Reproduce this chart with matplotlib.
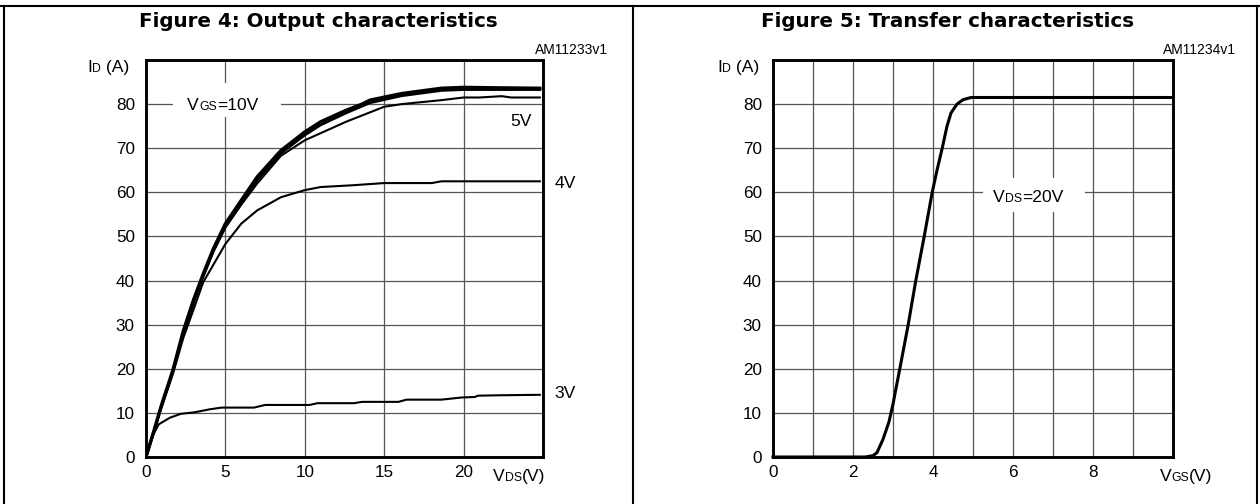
import matplotlib
matplotlib.use("Agg")
import matplotlib.pyplot as plt
from matplotlib.lines import Line2D
from matplotlib.patches import Rectangle

plt.rcParams["font.family"] = ["Liberation Sans", "DejaVu Sans"]

W, H = 1260, 504

# Figure 4: output characteristics, ID (A) vs VDS (V)
vds_10v = [0, 0.5, 0.96, 1.7, 2.35, 2.98, 3.6, 4.24, 5.0, 6.0, 7.0, 8.5, 10.0, 11.0,
           12.6, 13.6, 14.1, 16.1, 18.6, 20.0, 22.0, 24.8]
id_10v = [0, 6.0, 11.6, 19.8, 28.6, 35.5, 41.5, 47.2, 52.9, 58.2, 63.5, 69.5, 73.7, 76.0,
          78.6, 80.0, 80.9, 82.4, 83.6, 83.8, 83.7, 83.6]
vds_6v = [0, 0.5, 0.96, 1.7, 2.35, 2.98, 3.6, 4.24, 5.0, 6.0, 7.0, 8.5, 10.0, 11.0,
          12.6, 14.1, 16.1, 18.6, 20.0, 22.0, 24.8]
id_6v = [0, 5.8, 11.4, 19.5, 28.2, 35.0, 41.0, 46.7, 52.3, 57.6, 62.8, 68.9, 73.0, 75.3,
         78.0, 80.3, 81.9, 83.1, 83.3, 83.3, 83.3]
vds_5v = [0, 0.5, 0.96, 1.7, 2.35, 2.98, 3.6, 4.24, 5.0, 6.0, 7.0, 8.5, 10.0, 12.6, 15.0,
          16.1, 18.6, 20.0, 21.0, 22.4, 23.0, 24.8]
id_5v = [0, 5.8, 11.3, 19.3, 27.8, 34.8, 40.8, 46.5, 52.0, 57.2, 62.0, 68.3, 71.8, 76.0,
         79.4, 80.0, 80.9, 81.5, 81.5, 81.8, 81.5, 81.5]
vds_4v = [0, 0.5, 0.96, 1.7, 2.35, 3.0, 3.6, 5.0, 6.0, 7.0, 8.5, 10.0, 11.0, 13.0, 15.0,
          18.0, 18.6, 24.8]
id_4v = [0, 5.6, 11.0, 18.9, 27.0, 33.5, 39.6, 48.3, 52.9, 55.9, 58.9, 60.5, 61.2, 61.6,
         62.1, 62.1, 62.5, 62.5]
vds_3v = [0, 0.45, 0.8, 1.5, 2.2, 3.0, 4.0, 4.75, 6.8, 7.5, 10.3, 10.8, 13.1, 13.6, 15.9,
          16.4, 18.6, 19.9, 20.7, 20.9, 22.4, 24.8]
id_3v = [0, 5.0, 7.4, 8.9, 9.8, 10.1, 10.8, 11.2, 11.2, 11.8, 11.8, 12.2, 12.2, 12.5, 12.5,
         13.0, 13.0, 13.5, 13.6, 13.9, 14.0, 14.1]

# Figure 5: transfer characteristics, ID (A) vs VGS (V) at VDS = 20 V
vgs = [0, 2.3, 2.5, 2.6, 2.75, 2.9, 3.0, 3.17, 3.38, 3.57, 3.78, 3.98, 4.1, 4.23, 4.35,
       4.45, 4.6, 4.75, 4.95, 9.95]
id_tr = [0, 0, 0.3, 1.0, 4.0, 8.0, 12.0, 20.0, 30.0, 40.0, 50.0, 60.0, 65.0, 70.0, 75.0,
         78.0, 80.0, 81.0, 81.5, 81.5]

y_ticks = [0, 10, 20, 30, 40, 50, 60, 70, 80]
out_xticks = [0, 5, 10, 15, 20]
tr_xticks = [0, 2, 4, 6, 8]

FS = 12.3     # tick labels
LFS = 12.6    # curve / axis names
SMALL = 0.7


def fx(px):
    return px / W


def fy(py):
    return 1 - py / H


def rich(ax, x, y, parts, transform):
    """text pieces in a row; small ones sit on the baseline (datasheet style)"""
    t = ax.text(x, y, parts[0][0], transform=transform, fontsize=LFS * parts[0][1],
                va="baseline", ha="left", zorder=6, clip_on=False)
    for s, sc in parts[1:]:
        t = ax.annotate(s, xy=(1, 0), xycoords=t, fontsize=LFS * sc, va="bottom",
                        ha="left", zorder=6, annotation_clip=False)
    return t


def style(ax, xlim, xgrid, xticks):
    ax.set_xlim(*xlim)
    ax.set_ylim(0, 90)
    for v in xgrid:
        ax.axvline(v, color="#555555", lw=0.9, zorder=1)
    for v in range(10, 90, 10):
        ax.axhline(v, color="#555555", lw=0.9, zorder=1)
    ax.set_xticks(xticks)
    ax.set_yticks(y_ticks)
    ax.tick_params(length=0, labelsize=FS)
    ax.tick_params(axis="y", pad=8)
    ax.tick_params(axis="x", pad=6)
    for s in ax.spines.values():
        s.set_linewidth(2.1)
        s.set_zorder(4)


fig = plt.figure(figsize=(W / 100, H / 100), dpi=100)

# outer panel frames
for x in (4, 633, 1257):
    fig.add_artist(Line2D([fx(x), fx(x)], [0, fy(6)], color="black", lw=1.5))
fig.add_artist(Line2D([0, 1], [fy(6), fy(6)], color="black", lw=1.5))

ax1 = fig.add_axes([fx(146), fy(457), fx(543 - 146), (457 - 60) / H])
ax2 = fig.add_axes([fx(773), fy(457), fx(1173 - 773), (457 - 60) / H])

style(ax1, (0, 25), [5, 10, 15, 20], out_xticks)
style(ax2, (0, 10), range(1, 10), tr_xticks)

ax1.plot(vds_3v, id_3v, color="black", lw=1.5, zorder=3)
ax1.plot(vds_4v, id_4v, color="black", lw=1.5, zorder=3)
ax1.plot(vds_5v, id_5v, color="black", lw=1.5, zorder=3)
ax1.plot(vds_6v, id_6v, color="black", lw=2.0, zorder=3)
ax1.plot(vds_10v, id_10v, color="black", lw=2.4, zorder=3)

ax2.plot(vgs, id_tr, color="black", lw=2.2, zorder=3, clip_on=False)

# white boxes behind in-plot labels
ax1.add_patch(Rectangle((1.7, 77.1), 6.8, 7.7, facecolor="white", edgecolor="none", zorder=2))
ax2.add_patch(Rectangle((5.25, 55.5), 2.55, 7.7, facecolor="white", edgecolor="none", zorder=2))

rich(ax1, 2.6, 78.7, [("V", 1), ("GS", SMALL), ("=10V", 1)], ax1.transData)
rich(ax2, 5.5, 57.8, [("V", 1), ("DS", SMALL), ("=20V", 1)], ax2.transData)

ax1.text(23.6, 76, "5V", fontsize=LFS, ha="center", va="center", zorder=6)
ax1.text(26.4, 62.1, "4V", fontsize=LFS, ha="center", va="center", clip_on=False)
ax1.text(26.4, 14.5, "3V", fontsize=LFS, ha="center", va="center", clip_on=False)

# axis names, datasheet style
rich(ax1, fx(87), fy(72), [("I", 1), ("D", SMALL), (" (A)", 1)], fig.transFigure)
rich(ax2, fx(717), fy(72), [("I", 1), ("D", SMALL), (" (A)", 1)], fig.transFigure)
rich(ax1, fx(493), fy(481), [("V", 1), ("DS", SMALL), ("(V)", 1)], fig.transFigure)
rich(ax2, fx(1160), fy(481), [("V", 1), ("GS", SMALL), ("(V)", 1)], fig.transFigure)

fig.text(fx(318), fy(21.5), "Figure 4: Output characteristics", fontsize=14.3,
         fontweight="bold", family="DejaVu Sans", ha="center", va="center")
fig.text(fx(948), fy(21.5), "Figure 5: Transfer characteristics", fontsize=14.3,
         fontweight="bold", family="DejaVu Sans", ha="center", va="center")
fig.text(fx(608), fy(50), "AM11233v1", fontsize=10, ha="right", va="center")
fig.text(fx(1236), fy(50), "AM11234v1", fontsize=10, ha="right", va="center")

fig.savefig("out.png", dpi=100)
